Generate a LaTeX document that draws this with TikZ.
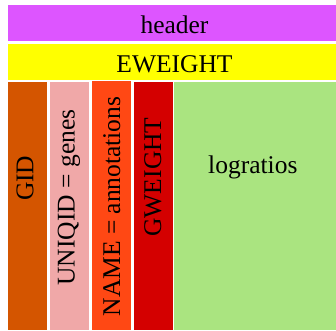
\documentclass[tikz,border=0pt]{standalone}
\usepackage{fontspec}
\setmainfont{Liberation Serif}
\definecolor{cheader}{RGB}{221,85,255}
\definecolor{cewt}{RGB}{255,255,0}
\definecolor{cgid}{RGB}{212,85,0}
\definecolor{cuniq}{RGB}{240,168,168}
\definecolor{cname}{RGB}{255,72,20}
\definecolor{cgwt}{RGB}{212,0,0}
\definecolor{clog}{RGB}{170,228,128}
\tikzset{
  box/.style={draw=none, inner sep=0pt, outer sep=0pt},
  lbl/.style={inner sep=0pt, anchor=base, font=\fontsize{25.5}{28}\selectfont, text=black},
  vlbl/.style={lbl, rotate=90}
}
\begin{document}
\begin{tikzpicture}[x=1pt,y=-1pt]
\useasboundingbox (0,0) rectangle (336,330);
\fill[white] (0,0) rectangle (336,330);
% boxes
\fill[cheader] (8,5) rectangle (336,41);
\fill[cewt] (8,44) rectangle (336,80);
\fill[cgid] (8,82) rectangle (47,330);
\fill[cuniq] (50,82) rectangle (89,330);
\fill[cname] (92,81) rectangle (131,330);
\fill[cgwt] (134,82) rectangle (173,330);
\fill[clog] (174,82) rectangle (336,330);
% labels
\node[lbl] (header) at (174.5,33.3) {header};
\node[lbl] (eweight) at (174.5,72.3) {EWEIGHT};
\node[vlbl] (gid) at (33.3,178.3) {GID};
\node[vlbl] (uniqid) at (74.5,197.5) {UNIQID = genes};
\node[vlbl] (name) at (120,206.5) {NAME = annotations};
\node[vlbl] (gweight) at (161,177) {GWEIGHT};
\node[lbl] (logratios) at (252.8,173.3) {logratios};
\end{tikzpicture}
\end{document}
